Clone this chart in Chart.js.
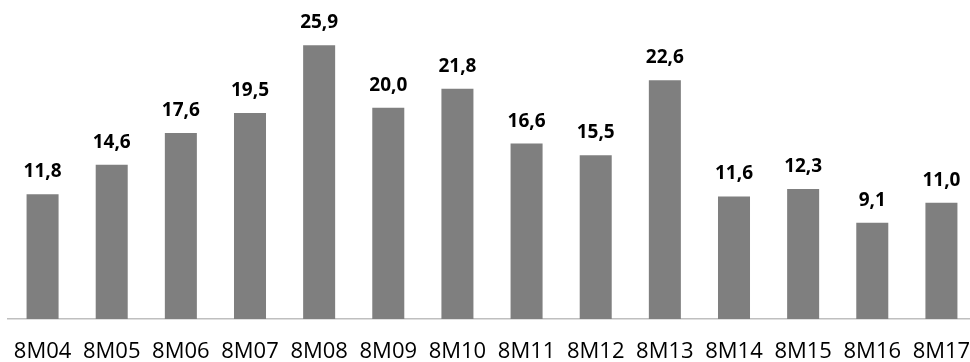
<!DOCTYPE html>
<html>
<head>
<meta charset="utf-8">
<script src="https://cdn.jsdelivr.net/npm/chart.js@4"></script>
<style>
  html, body { margin: 0; padding: 0; background: #fff; overflow: hidden; }
  #wrap { width: 970px; height: 362px; overflow: hidden; }
  canvas { display: block; }
</style>
</head>
<body>
<div id="wrap"><canvas id="c" width="985" height="362"></canvas></div>
<script>
const categories = ['8M04','8M05','8M06','8M07','8M08','8M09','8M10','8M11','8M12','8M13','8M14','8M15','8M16','8M17'];
const values = [11.8, 14.6, 17.6, 19.5, 25.9, 20.0, 21.8, 16.6, 15.5, 22.6, 11.6, 12.3, 9.1, 11.0];

const fmt = v => v.toFixed(1).replace('.', ',');

// value labels above each bar
const barLabels = {
  id: 'barLabels',
  afterDatasetsDraw(chart) {
    const ctx = chart.ctx;
    const meta = chart.getDatasetMeta(0);
    ctx.save();
    ctx.font = 'bold 19px "Open Sans"';
    ctx.fillStyle = '#000';
    ctx.textAlign = 'center';
    ctx.textBaseline = 'alphabetic';
    meta.data.forEach((bar, i) => {
      ctx.fillText(fmt(values[i]), bar.x, bar.y - 17);
    });
    ctx.restore();
  }
};

new Chart(document.getElementById('c'), {
  type: 'bar',
  data: {
    labels: categories,
    datasets: [{
      data: values,
      backgroundColor: '#7f7f7f',
      borderWidth: 0,
      categoryPercentage: 1,
      barPercentage: 0.463
    }]
  },
  options: {
    responsive: false,
    animation: false,
    events: [],
    layout: { padding: { left: 8, right: 9, top: 2, bottom: 0 } },
    plugins: { legend: { display: false }, tooltip: { enabled: false } },
    scales: {
      x: {
        grid: { display: false, drawTicks: false },
        border: { display: true, color: '#bfbfbf', width: 1.5 },
        ticks: {
          color: '#000',
          font: { family: '"Open Sans"', size: 22 },
          padding: 20,
          maxRotation: 0,
          autoSkip: false
        },
        afterFit(scale) {
          scale.height = 43;
          scale.paddingLeft = 0;
          scale.paddingRight = 0;
        }
      },
      y: {
        display: false,
        min: 0,
        max: 30
      }
    }
  },
  plugins: [barLabels]
});
</script>
</body>
</html>
